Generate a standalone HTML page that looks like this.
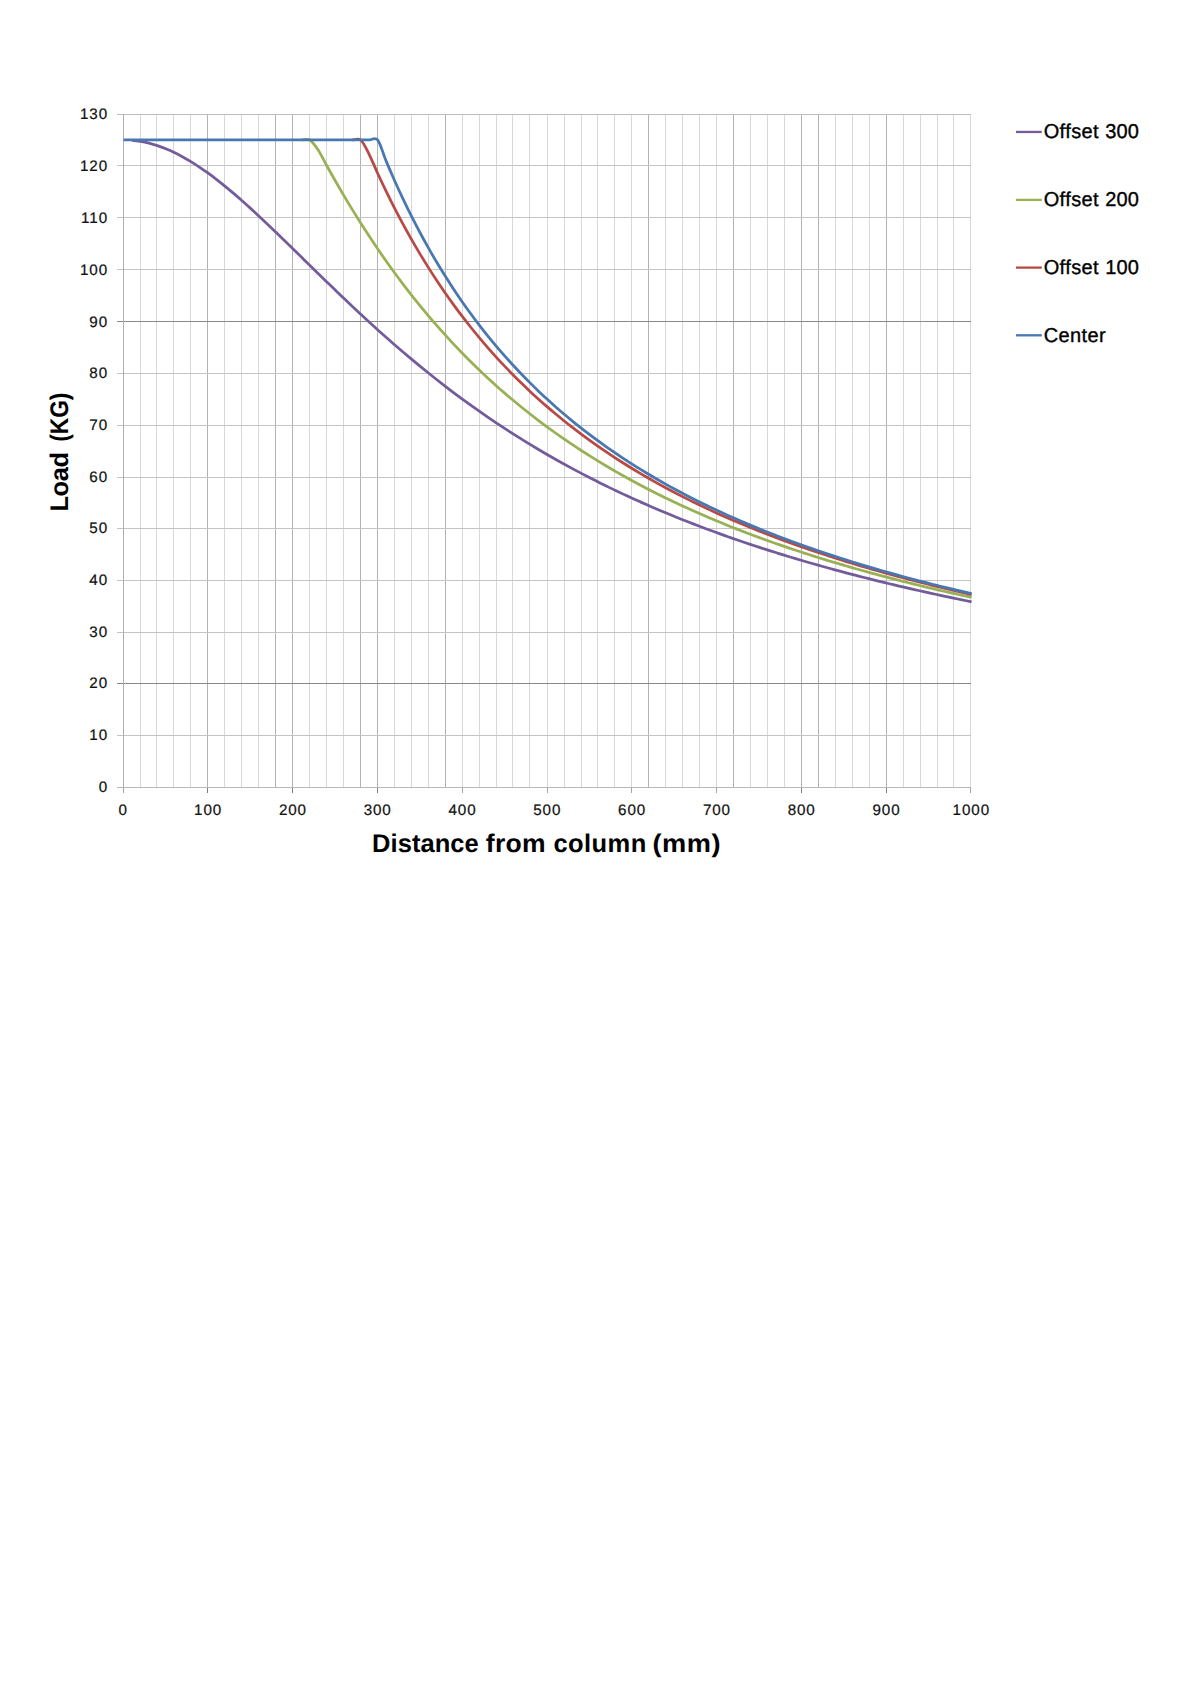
<!DOCTYPE html>
<html lang="en"><head><meta charset="utf-8"><title>Load vs distance from column</title>
<style>html,body{margin:0;padding:0;background:#fff}body{width:1191px;height:1684px;overflow:hidden}svg{display:block}text{font-family:"Liberation Sans",sans-serif;fill:#111;text-rendering:geometricPrecision}.t{font-size:15.2px;letter-spacing:.9px;stroke:#111;stroke-width:.22px}.lg{font-size:20px;letter-spacing:.38px;fill:#000;stroke:#000;stroke-width:.35px}.ax{font-weight:bold;font-size:25.5px;fill:#000}.s{fill:none;stroke-width:2.75;stroke-linejoin:round;stroke-linecap:butt}</style></head><body>
<svg width="1191" height="1684" viewBox="0 0 1191 1684">
<rect width="1191" height="1684" fill="#fff"/>
<g shape-rendering="crispEdges">
<rect x="123" y="114" width="1" height="674" fill="#b2b2b2"/>
<rect x="140" y="114" width="1" height="674" fill="#d8d8d8"/>
<rect x="156" y="114" width="1" height="674" fill="#d8d8d8"/>
<rect x="173" y="114" width="1" height="674" fill="#d8d8d8"/>
<rect x="190" y="114" width="1" height="674" fill="#d8d8d8"/>
<rect x="207" y="114" width="1" height="674" fill="#b2b2b2"/>
<rect x="224" y="114" width="1" height="674" fill="#d8d8d8"/>
<rect x="241" y="114" width="1" height="674" fill="#d8d8d8"/>
<rect x="258" y="114" width="1" height="674" fill="#d8d8d8"/>
<rect x="275" y="114" width="1" height="674" fill="#b2b2b2"/>
<rect x="292" y="114" width="1" height="674" fill="#b2b2b2"/>
<rect x="309" y="114" width="1" height="674" fill="#d8d8d8"/>
<rect x="326" y="114" width="1" height="674" fill="#d8d8d8"/>
<rect x="343" y="114" width="1" height="674" fill="#d8d8d8"/>
<rect x="360" y="114" width="1" height="674" fill="#b2b2b2"/>
<rect x="377" y="114" width="1" height="674" fill="#b2b2b2"/>
<rect x="394" y="114" width="1" height="674" fill="#d8d8d8"/>
<rect x="411" y="114" width="1" height="674" fill="#d8d8d8"/>
<rect x="428" y="114" width="1" height="674" fill="#d8d8d8"/>
<rect x="445" y="114" width="1" height="674" fill="#b2b2b2"/>
<rect x="462" y="114" width="1" height="674" fill="#d8d8d8"/>
<rect x="479" y="114" width="1" height="674" fill="#d8d8d8"/>
<rect x="496" y="114" width="1" height="674" fill="#d8d8d8"/>
<rect x="512" y="114" width="1" height="674" fill="#d8d8d8"/>
<rect x="529" y="114" width="1" height="674" fill="#d8d8d8"/>
<rect x="547" y="114" width="1" height="674" fill="#d8d8d8"/>
<rect x="564" y="114" width="1" height="674" fill="#d8d8d8"/>
<rect x="581" y="114" width="1" height="674" fill="#d8d8d8"/>
<rect x="597" y="114" width="1" height="674" fill="#d8d8d8"/>
<rect x="614" y="114" width="1" height="674" fill="#d8d8d8"/>
<rect x="631" y="114" width="1" height="674" fill="#d8d8d8"/>
<rect x="648" y="114" width="1" height="674" fill="#b2b2b2"/>
<rect x="665" y="114" width="1" height="674" fill="#d8d8d8"/>
<rect x="682" y="114" width="1" height="674" fill="#d8d8d8"/>
<rect x="699" y="114" width="1" height="674" fill="#d8d8d8"/>
<rect x="716" y="114" width="1" height="674" fill="#d8d8d8"/>
<rect x="733" y="114" width="1" height="674" fill="#b2b2b2"/>
<rect x="750" y="114" width="1" height="674" fill="#d8d8d8"/>
<rect x="767" y="114" width="1" height="674" fill="#d8d8d8"/>
<rect x="784" y="114" width="1" height="674" fill="#d8d8d8"/>
<rect x="801" y="114" width="1" height="674" fill="#b2b2b2"/>
<rect x="818" y="114" width="1" height="674" fill="#b2b2b2"/>
<rect x="835" y="114" width="1" height="674" fill="#d8d8d8"/>
<rect x="852" y="114" width="1" height="674" fill="#d8d8d8"/>
<rect x="869" y="114" width="1" height="674" fill="#d8d8d8"/>
<rect x="886" y="114" width="1" height="674" fill="#b2b2b2"/>
<rect x="903" y="114" width="1" height="674" fill="#d8d8d8"/>
<rect x="920" y="114" width="1" height="674" fill="#d8d8d8"/>
<rect x="937" y="114" width="1" height="674" fill="#d8d8d8"/>
<rect x="953" y="114" width="1" height="674" fill="#d8d8d8"/>
<rect x="970" y="114" width="1" height="674" fill="#d8d8d8"/>
<rect x="117" y="787" width="854" height="1" fill="#b8b8b8"/>
<rect x="117" y="735" width="854" height="1" fill="#c4c4c4"/>
<rect x="117" y="683" width="854" height="1" fill="#888888"/>
<rect x="117" y="632" width="854" height="1" fill="#c4c4c4"/>
<rect x="117" y="580" width="854" height="1" fill="#c4c4c4"/>
<rect x="117" y="528" width="854" height="1" fill="#c4c4c4"/>
<rect x="117" y="477" width="854" height="1" fill="#c4c4c4"/>
<rect x="117" y="425" width="854" height="1" fill="#c4c4c4"/>
<rect x="117" y="373" width="854" height="1" fill="#c4c4c4"/>
<rect x="117" y="321" width="854" height="1" fill="#888888"/>
<rect x="117" y="269" width="854" height="1" fill="#c4c4c4"/>
<rect x="117" y="217" width="854" height="1" fill="#c4c4c4"/>
<rect x="117" y="165" width="854" height="1" fill="#c4c4c4"/>
<rect x="117" y="114" width="854" height="1" fill="#bcbcbc"/>
<rect x="123" y="114" width="1" height="679" fill="#b0b0b0"/>
<rect x="123" y="788" width="1" height="5" fill="#a4a4a4"/>
<rect x="207" y="788" width="1" height="5" fill="#7c7c7c"/>
<rect x="292" y="788" width="1" height="5" fill="#7c7c7c"/>
<rect x="377" y="788" width="1" height="5" fill="#7c7c7c"/>
<rect x="462" y="788" width="1" height="5" fill="#a4a4a4"/>
<rect x="547" y="788" width="1" height="5" fill="#a4a4a4"/>
<rect x="631" y="788" width="1" height="5" fill="#a4a4a4"/>
<rect x="716" y="788" width="1" height="5" fill="#a4a4a4"/>
<rect x="801" y="788" width="1" height="5" fill="#7c7c7c"/>
<rect x="886" y="788" width="1" height="5" fill="#7c7c7c"/>
<rect x="970" y="788" width="1" height="5" fill="#a4a4a4"/>
</g>
<path class="s" stroke="#735c9c" d="M131.97 140.35C134.79 140.59 137.62 140.95 140.44 141.42C143.26 141.90 146.09 142.49 148.91 143.20C151.73 143.91 154.56 144.74 157.38 145.67C160.20 146.60 163.03 147.65 165.85 148.80C168.67 149.95 171.50 151.21 174.32 152.57C177.14 153.92 179.97 155.38 182.79 156.93C185.61 158.48 188.44 160.13 191.26 161.86C194.08 163.59 196.91 165.41 199.73 167.30C202.55 169.20 205.38 171.18 208.20 173.23C211.02 175.27 213.85 177.40 216.67 179.58C219.49 181.76 222.32 184.01 225.14 186.31C227.96 188.62 230.79 190.98 233.61 193.39C236.43 195.79 239.26 198.26 242.08 200.75C244.90 203.25 247.73 205.80 250.55 208.37C253.37 210.94 256.20 213.55 259.02 216.19C261.84 218.82 264.67 221.49 267.49 224.18C270.31 226.86 273.14 229.57 275.96 232.29C278.78 235.01 281.61 237.75 284.43 240.50C287.25 243.25 290.08 246.01 292.90 248.77C295.72 251.53 298.55 254.30 301.37 257.07C304.19 259.84 307.02 262.62 309.84 265.38C312.66 268.15 315.49 270.91 318.31 273.67C321.13 276.43 323.96 279.18 326.78 281.92C329.60 284.66 332.43 287.40 335.25 290.11C338.07 292.83 340.90 295.54 343.72 298.23C346.54 300.92 349.37 303.60 352.19 306.26C355.01 308.92 357.84 311.56 360.66 314.19C363.48 316.81 366.31 319.42 369.13 322.00C371.95 324.59 374.78 327.15 377.60 329.70C380.42 332.24 383.25 334.77 386.07 337.27C388.89 339.77 391.72 342.25 394.54 344.70C397.36 347.16 400.19 349.59 403.01 352.00C405.83 354.41 408.66 356.80 411.48 359.16C414.30 361.52 417.13 363.86 419.95 366.17C422.77 368.49 425.60 370.78 428.42 373.04C431.24 375.31 434.07 377.55 436.89 379.77C439.71 381.99 442.54 384.18 445.36 386.35C448.18 388.52 451.01 390.66 453.83 392.78C456.65 394.90 459.48 397.00 462.30 399.07C465.12 401.15 467.95 403.19 470.77 405.22C473.59 407.24 476.42 409.25 479.24 411.22C482.06 413.20 484.89 415.16 487.71 417.09C490.53 419.02 493.36 420.93 496.18 422.82C499.00 424.71 501.83 426.57 504.65 428.41C507.47 430.26 510.30 432.08 513.12 433.88C515.94 435.67 518.77 437.45 521.59 439.21C524.41 440.96 527.24 442.70 530.06 444.41C532.88 446.13 535.71 447.82 538.53 449.49C541.35 451.17 544.18 452.82 547.00 454.45C549.82 456.09 552.65 457.70 555.47 459.30C558.29 460.89 561.12 462.47 563.94 464.02C566.76 465.58 569.59 467.12 572.41 468.64C575.23 470.16 578.06 471.66 580.88 473.14C583.70 474.63 586.53 476.09 589.35 477.54C592.17 478.99 595.00 480.42 597.82 481.84C600.64 483.25 603.47 484.65 606.29 486.03C609.11 487.41 611.94 488.78 614.76 490.13C617.58 491.48 620.41 492.81 623.23 494.13C626.05 495.44 628.88 496.75 631.70 498.03C634.52 499.32 637.35 500.59 640.17 501.85C642.99 503.11 645.82 504.35 648.64 505.58C651.46 506.81 654.29 508.03 657.11 509.23C659.93 510.43 662.76 511.61 665.58 512.79C668.40 513.96 671.23 515.12 674.05 516.27C676.87 517.42 679.70 518.55 682.52 519.67C685.34 520.80 688.17 521.91 690.99 523.00C693.81 524.10 696.64 525.18 699.46 526.26C702.28 527.33 705.11 528.39 707.93 529.44C710.75 530.49 713.58 531.53 716.40 532.55C719.22 533.58 722.05 534.60 724.87 535.60C727.69 536.60 730.52 537.60 733.34 538.58C736.16 539.56 738.99 540.53 741.81 541.50C744.63 542.46 747.46 543.41 750.28 544.35C753.10 545.29 755.93 546.22 758.75 547.15C761.57 548.07 764.40 548.98 767.22 549.88C770.04 550.78 772.87 551.68 775.69 552.56C778.51 553.44 781.34 554.32 784.16 555.18C786.98 556.05 789.81 556.91 792.63 557.75C795.45 558.60 798.28 559.44 801.10 560.27C803.92 561.10 806.75 561.93 809.57 562.74C812.39 563.55 815.22 564.36 818.04 565.16C820.86 565.96 823.69 566.75 826.51 567.53C829.33 568.31 832.16 569.08 834.98 569.85C837.80 570.62 840.63 571.38 843.45 572.13C846.27 572.88 849.10 573.62 851.92 574.36C854.74 575.10 857.57 575.83 860.39 576.55C863.21 577.27 866.04 577.99 868.86 578.70C871.68 579.41 874.51 580.11 877.33 580.81C880.15 581.50 882.98 582.19 885.80 582.88C888.62 583.56 891.45 584.23 894.27 584.90C897.09 585.57 899.92 586.24 902.74 586.90C905.56 587.55 908.39 588.20 911.21 588.85C914.03 589.50 916.86 590.14 919.68 590.77C922.50 591.40 925.33 592.03 928.15 592.65C930.97 593.28 933.80 593.89 936.62 594.50C939.44 595.11 942.27 595.72 945.09 596.32C947.91 596.92 950.74 597.52 953.56 598.11C956.38 598.69 959.21 599.28 962.03 599.86C964.85 600.44 969.09 601.29 970.50 601.58l1.1 .25"/>
<path class="s" stroke="#98b155" d="M301.37 139.99C304.19 139.99 307.02 138.29 309.84 139.99C312.66 141.69 315.49 145.89 318.31 150.18C321.13 154.47 323.96 160.62 326.78 165.72C329.60 170.81 332.43 175.83 335.25 180.77C338.07 185.70 340.90 190.55 343.72 195.32C346.54 200.10 349.37 204.79 352.19 209.40C355.01 214.01 357.84 218.53 360.66 222.99C363.48 227.44 366.31 231.81 369.13 236.11C371.95 240.41 374.78 244.62 377.60 248.77C380.42 252.92 383.25 256.99 386.07 260.99C388.89 264.99 391.72 268.91 394.54 272.77C397.36 276.63 400.19 280.41 403.01 284.13C405.83 287.86 408.66 291.51 411.48 295.10C414.30 298.68 417.13 302.21 419.95 305.67C422.77 309.13 425.60 312.53 428.42 315.86C431.24 319.20 434.07 322.48 436.89 325.70C439.71 328.92 442.54 332.09 445.36 335.20C448.18 338.30 451.01 341.36 453.83 344.36C456.65 347.36 459.48 350.30 462.30 353.20C465.12 356.10 467.95 358.94 470.77 361.74C473.59 364.54 476.42 367.29 479.24 369.99C482.06 372.69 484.89 375.35 487.71 377.96C490.53 380.57 493.36 383.14 496.18 385.66C499.00 388.19 501.83 390.67 504.65 393.11C507.47 395.55 510.30 397.95 513.12 400.31C515.94 402.67 518.77 404.99 521.59 407.28C524.41 409.56 527.24 411.81 530.06 414.02C532.88 416.23 535.71 418.41 538.53 420.55C541.35 422.69 544.18 424.79 547.00 426.87C549.82 428.94 552.65 430.98 555.47 432.99C558.29 435.00 561.12 436.98 563.94 438.93C566.76 440.88 569.59 442.79 572.41 444.68C575.23 446.57 578.06 448.43 580.88 450.26C583.70 452.09 586.53 453.90 589.35 455.67C592.17 457.45 595.00 459.20 597.82 460.93C600.64 462.65 603.47 464.35 606.29 466.03C609.11 467.70 611.94 469.35 614.76 470.98C617.58 472.60 620.41 474.21 623.23 475.79C626.05 477.37 628.88 478.93 631.70 480.46C634.52 482.00 637.35 483.51 640.17 485.01C642.99 486.50 645.82 487.97 648.64 489.43C651.46 490.88 654.29 492.31 657.11 493.72C659.93 495.14 662.76 496.53 665.58 497.91C668.40 499.28 671.23 500.64 674.05 501.98C676.87 503.31 679.70 504.63 682.52 505.94C685.34 507.24 688.17 508.53 690.99 509.80C693.81 511.07 696.64 512.32 699.46 513.56C702.28 514.79 705.11 516.01 707.93 517.22C710.75 518.42 713.58 519.61 716.40 520.79C719.22 521.96 722.05 523.12 724.87 524.27C727.69 525.42 730.52 526.55 733.34 527.67C736.16 528.78 738.99 529.89 741.81 530.98C744.63 532.07 747.46 533.14 750.28 534.21C753.10 535.27 755.93 536.32 758.75 537.36C761.57 538.40 764.40 539.43 767.22 540.44C770.04 541.46 772.87 542.46 775.69 543.45C778.51 544.44 781.34 545.42 784.16 546.39C786.98 547.35 789.81 548.31 792.63 549.26C795.45 550.20 798.28 551.14 801.10 552.06C803.92 552.98 806.75 553.90 809.57 554.80C812.39 555.70 815.22 556.60 818.04 557.48C820.86 558.36 823.69 559.24 826.51 560.10C829.33 560.97 832.16 561.82 834.98 562.66C837.80 563.51 840.63 564.35 843.45 565.17C846.27 566.00 849.10 566.82 851.92 567.63C854.74 568.44 857.57 569.24 860.39 570.03C863.21 570.82 866.04 571.60 868.86 572.38C871.68 573.16 874.51 573.92 877.33 574.68C880.15 575.44 882.98 576.19 885.80 576.94C888.62 577.68 891.45 578.42 894.27 579.15C897.09 579.87 899.92 580.60 902.74 581.31C905.56 582.02 908.39 582.73 911.21 583.43C914.03 584.13 916.86 584.82 919.68 585.51C922.50 586.20 925.33 586.87 928.15 587.55C930.97 588.22 933.80 588.88 936.62 589.54C939.44 590.20 942.27 590.86 945.09 591.50C947.91 592.15 950.74 592.79 953.56 593.43C956.38 594.06 959.21 594.69 962.03 595.31C964.85 595.93 969.09 596.85 970.50 597.16l1.1 .25"/>
<path class="s" stroke="#b74a45" d="M352.19 139.99C355.01 139.99 357.84 137.61 360.66 139.99C363.48 142.37 366.31 148.72 369.13 154.26C371.95 159.80 374.78 167.08 377.60 173.23C380.42 179.38 383.25 185.34 386.07 191.15C388.89 196.97 391.72 202.61 394.54 208.11C397.36 213.61 400.19 218.96 403.01 224.18C405.83 229.39 408.66 234.46 411.48 239.41C414.30 244.36 417.13 249.18 419.95 253.88C422.77 258.58 425.60 263.16 428.42 267.63C431.24 272.10 434.07 276.46 436.89 280.72C439.71 284.98 442.54 289.13 445.36 293.18C448.18 297.24 451.01 301.20 453.83 305.07C456.65 308.95 459.48 312.72 462.30 316.42C465.12 320.12 467.95 323.73 470.77 327.26C473.59 330.80 476.42 334.25 479.24 337.63C482.06 341.01 484.89 344.31 487.71 347.55C490.53 350.79 493.36 353.96 496.18 357.06C499.00 360.16 501.83 363.20 504.65 366.17C507.47 369.15 510.30 372.06 513.12 374.92C515.94 377.78 518.77 380.57 521.59 383.32C524.41 386.06 527.24 388.75 530.06 391.39C532.88 394.03 535.71 396.61 538.53 399.15C541.35 401.69 544.18 404.18 547.00 406.62C549.82 409.06 552.65 411.46 555.47 413.81C558.29 416.17 561.12 418.47 563.94 420.74C566.76 423.01 569.59 425.24 572.41 427.43C575.23 429.62 578.06 431.76 580.88 433.88C583.70 435.99 586.53 438.06 589.35 440.10C592.17 442.14 595.00 444.14 597.82 446.11C600.64 448.09 603.47 450.02 606.29 451.93C609.11 453.83 611.94 455.70 614.76 457.55C617.58 459.39 620.41 461.20 623.23 462.99C626.05 464.77 628.88 466.52 631.70 468.25C634.52 469.98 637.35 471.68 640.17 473.35C642.99 475.02 645.82 476.67 648.64 478.29C651.46 479.91 654.29 481.51 657.11 483.08C659.93 484.65 662.76 486.20 665.58 487.72C668.40 489.25 671.23 490.75 674.05 492.23C676.87 493.71 679.70 495.17 682.52 496.61C685.34 498.05 688.17 499.46 690.99 500.86C693.81 502.25 696.64 503.63 699.46 504.99C702.28 506.34 705.11 507.68 707.93 509.00C710.75 510.32 713.58 511.62 716.40 512.90C719.22 514.18 722.05 515.45 724.87 516.69C727.69 517.94 730.52 519.17 733.34 520.39C736.16 521.60 738.99 522.80 741.81 523.98C744.63 525.16 747.46 526.33 750.28 527.48C753.10 528.63 755.93 529.77 758.75 530.89C761.57 532.01 764.40 533.12 767.22 534.21C770.04 535.30 772.87 536.38 775.69 537.45C778.51 538.51 781.34 539.56 784.16 540.60C786.98 541.64 789.81 542.67 792.63 543.68C795.45 544.69 798.28 545.69 801.10 546.68C803.92 547.67 806.75 548.65 809.57 549.61C812.39 550.58 815.22 551.53 818.04 552.47C820.86 553.42 823.69 554.35 826.51 555.27C829.33 556.19 832.16 557.10 834.98 558.00C837.80 558.90 840.63 559.78 843.45 560.66C846.27 561.54 849.10 562.41 851.92 563.27C854.74 564.12 857.57 564.97 860.39 565.81C863.21 566.65 866.04 567.48 868.86 568.30C871.68 569.12 874.51 569.93 877.33 570.74C880.15 571.54 882.98 572.33 885.80 573.12C888.62 573.90 891.45 574.68 894.27 575.45C897.09 576.21 899.92 576.97 902.74 577.73C905.56 578.48 908.39 579.22 911.21 579.96C914.03 580.69 916.86 581.42 919.68 582.14C922.50 582.86 925.33 583.58 928.15 584.28C930.97 584.99 933.80 585.69 936.62 586.38C939.44 587.07 942.27 587.76 945.09 588.43C947.91 589.11 950.74 589.78 953.56 590.44C956.38 591.11 959.21 591.77 962.03 592.42C964.85 593.07 969.09 594.03 970.50 594.35l1.1 .25"/>
<path class="s" stroke="#4977b1" d="M123.50 139.99C124.91 139.99 129.15 139.99 131.97 139.99C134.79 139.99 137.62 139.99 140.44 139.99C143.26 139.99 146.09 139.99 148.91 139.99C151.73 139.99 154.56 139.99 157.38 139.99C160.20 139.99 163.03 139.99 165.85 139.99C168.67 139.99 171.50 139.99 174.32 139.99C177.14 139.99 179.97 139.99 182.79 139.99C185.61 139.99 188.44 139.99 191.26 139.99C194.08 139.99 196.91 139.99 199.73 139.99C202.55 139.99 205.38 139.99 208.20 139.99C211.02 139.99 213.85 139.99 216.67 139.99C219.49 139.99 222.32 139.99 225.14 139.99C227.96 139.99 230.79 139.99 233.61 139.99C236.43 139.99 239.26 139.99 242.08 139.99C244.90 139.99 247.73 139.99 250.55 139.99C253.37 139.99 256.20 139.99 259.02 139.99C261.84 139.99 264.67 139.99 267.49 139.99C270.31 139.99 273.14 139.99 275.96 139.99C278.78 139.99 281.61 139.99 284.43 139.99C287.25 139.99 290.08 139.99 292.90 139.99C295.72 139.99 298.55 139.99 301.37 139.99C304.19 139.99 307.02 139.99 309.84 139.99C312.66 139.99 315.49 139.99 318.31 139.99C321.13 139.99 323.96 139.99 326.78 139.99C329.60 139.99 332.43 139.99 335.25 139.99C338.07 139.99 340.90 139.99 343.72 139.99C346.54 139.99 349.37 139.99 352.19 139.99C355.01 139.99 357.84 139.99 360.66 139.99C363.48 139.99 366.31 139.99 369.13 139.99C371.95 139.99 374.78 136.51 377.60 139.99C380.42 143.47 383.25 154.13 386.07 160.88C388.89 167.63 391.72 174.14 394.54 180.47C397.36 186.80 400.19 192.92 403.01 198.87C405.83 204.82 408.66 210.58 411.48 216.19C414.30 221.80 417.13 227.23 419.95 232.52C422.77 237.81 425.60 242.94 428.42 247.94C431.24 252.94 434.07 257.79 436.89 262.53C439.71 267.26 442.54 271.86 445.36 276.35C448.18 280.84 451.01 285.20 453.83 289.46C456.65 293.72 459.48 297.86 462.30 301.92C465.12 305.97 467.95 309.91 470.77 313.76C473.59 317.62 476.42 321.37 479.24 325.05C482.06 328.72 484.89 332.30 487.71 335.81C490.53 339.31 493.36 342.73 496.18 346.08C499.00 349.43 501.83 352.69 504.65 355.89C507.47 359.09 510.30 362.22 513.12 365.28C515.94 368.34 518.77 371.33 521.59 374.27C524.41 377.20 527.24 380.07 530.06 382.88C532.88 385.69 535.71 388.44 538.53 391.14C541.35 393.84 544.18 396.48 547.00 399.07C549.82 401.66 552.65 404.20 555.47 406.69C558.29 409.18 561.12 411.62 563.94 414.02C566.76 416.42 569.59 418.76 572.41 421.07C575.23 423.38 578.06 425.64 580.88 427.86C583.70 430.08 586.53 432.26 589.35 434.40C592.17 436.54 595.00 438.65 597.82 440.71C600.64 442.78 603.47 444.80 606.29 446.80C609.11 448.79 611.94 450.75 614.76 452.68C617.58 454.60 620.41 456.49 623.23 458.35C626.05 460.22 628.88 462.04 631.70 463.84C634.52 465.64 637.35 467.41 640.17 469.15C642.99 470.89 645.82 472.61 648.64 474.29C651.46 475.98 654.29 477.63 657.11 479.27C659.93 480.90 662.76 482.50 665.58 484.08C668.40 485.67 671.23 487.22 674.05 488.76C676.87 490.29 679.70 491.80 682.52 493.29C685.34 494.77 688.17 496.24 690.99 497.68C693.81 499.12 696.64 500.54 699.46 501.94C702.28 503.35 705.11 504.73 707.93 506.09C710.75 507.45 713.58 508.79 716.40 510.11C719.22 511.43 722.05 512.73 724.87 514.02C727.69 515.30 730.52 516.57 733.34 517.82C736.16 519.07 738.99 520.30 741.81 521.52C744.63 522.73 747.46 523.93 750.28 525.11C753.10 526.30 755.93 527.46 758.75 528.62C761.57 529.77 764.40 530.90 767.22 532.02C770.04 533.15 772.87 534.25 775.69 535.34C778.51 536.44 781.34 537.52 784.16 538.58C786.98 539.64 789.81 540.70 792.63 541.73C795.45 542.77 798.28 543.80 801.10 544.81C803.92 545.82 806.75 546.82 809.57 547.81C812.39 548.79 815.22 549.77 818.04 550.73C820.86 551.70 823.69 552.65 826.51 553.59C829.33 554.53 832.16 555.46 834.98 556.37C837.80 557.29 840.63 558.20 843.45 559.10C846.27 559.99 849.10 560.88 851.92 561.75C854.74 562.63 857.57 563.50 860.39 564.35C863.21 565.21 866.04 566.05 868.86 566.89C871.68 567.73 874.51 568.55 877.33 569.37C880.15 570.19 882.98 571.00 885.80 571.80C888.62 572.60 891.45 573.39 894.27 574.17C897.09 574.95 899.92 575.72 902.74 576.49C905.56 577.25 908.39 578.01 911.21 578.76C914.03 579.51 916.86 580.25 919.68 580.98C922.50 581.72 925.33 582.44 928.15 583.16C930.97 583.88 933.80 584.59 936.62 585.29C939.44 585.99 942.27 586.69 945.09 587.38C947.91 588.07 950.74 588.75 953.56 589.42C956.38 590.10 959.21 590.76 962.03 591.42C964.85 592.08 969.09 593.06 970.50 593.39l1.1 .25"/>
<text class="t" x="108.0" y="792.4" text-anchor="end">0</text>
<text class="t" x="108.0" y="740.4" text-anchor="end">10</text>
<text class="t" x="108.0" y="688.4" text-anchor="end">20</text>
<text class="t" x="108.0" y="637.4" text-anchor="end">30</text>
<text class="t" x="108.0" y="585.4" text-anchor="end">40</text>
<text class="t" x="108.0" y="533.4" text-anchor="end">50</text>
<text class="t" x="108.0" y="482.4" text-anchor="end">60</text>
<text class="t" x="108.0" y="430.4" text-anchor="end">70</text>
<text class="t" x="108.0" y="378.4" text-anchor="end">80</text>
<text class="t" x="108.0" y="326.8" text-anchor="end">90</text>
<text class="t" x="108.0" y="274.8" text-anchor="end">100</text>
<text class="t" x="108.0" y="222.8" text-anchor="end">110</text>
<text class="t" x="108.0" y="170.8" text-anchor="end">120</text>
<text class="t" x="108.0" y="119.2" text-anchor="end">130</text>
<text class="t" x="123.3" y="814.7" text-anchor="middle">0</text>
<text class="t" x="208.1" y="814.7" text-anchor="middle">100</text>
<text class="t" x="292.9" y="814.7" text-anchor="middle">200</text>
<text class="t" x="377.7" y="814.7" text-anchor="middle">300</text>
<text class="t" x="462.5" y="814.7" text-anchor="middle">400</text>
<text class="t" x="547.3" y="814.7" text-anchor="middle">500</text>
<text class="t" x="632.1" y="814.7" text-anchor="middle">600</text>
<text class="t" x="716.9" y="814.7" text-anchor="middle">700</text>
<text class="t" x="801.7" y="814.7" text-anchor="middle">800</text>
<text class="t" x="886.5" y="814.7" text-anchor="middle">900</text>
<text class="t" x="971.3" y="814.7" text-anchor="middle">1000</text>
<text class="ax" y="852.3"><tspan x="372.0" style="letter-spacing:0.07px">Distance</tspan> <tspan x="485.8" style="letter-spacing:0.3px" textLength="60.2" lengthAdjust="spacingAndGlyphs">from</tspan> <tspan x="553.4" style="letter-spacing:0.45px">column</tspan> <tspan x="652.4" style="letter-spacing:0.5px" textLength="68.6" lengthAdjust="spacingAndGlyphs">(mm)</tspan></text>
<text class="ax" transform="translate(68.2 451.3) rotate(-90)"><tspan x="-60.3" style="letter-spacing:-.45px">Load</tspan> <tspan x="9.5" textLength="49.2" lengthAdjust="spacingAndGlyphs">(KG)</tspan></text>
<rect x="1016" y="130.80" width="25.8" height="2.3" fill="#735c9c"/>
<text class="lg" x="1043.7" y="138.4">Offset <tspan x="1105.2" style="letter-spacing:.1px">300</tspan></text>
<rect x="1016" y="198.75" width="25.8" height="2.3" fill="#98b155"/>
<text class="lg" x="1043.7" y="206.2">Offset <tspan x="1105.2" style="letter-spacing:.1px">200</tspan></text>
<rect x="1016" y="266.45" width="25.8" height="2.3" fill="#b74a45"/>
<text class="lg" x="1043.7" y="274.0">Offset <tspan x="1105.2" style="letter-spacing:.1px">100</tspan></text>
<rect x="1016" y="334.15" width="25.8" height="2.3" fill="#4977b1"/>
<text class="lg" x="1043.7" y="341.8">Center</text>
</svg></body></html>
